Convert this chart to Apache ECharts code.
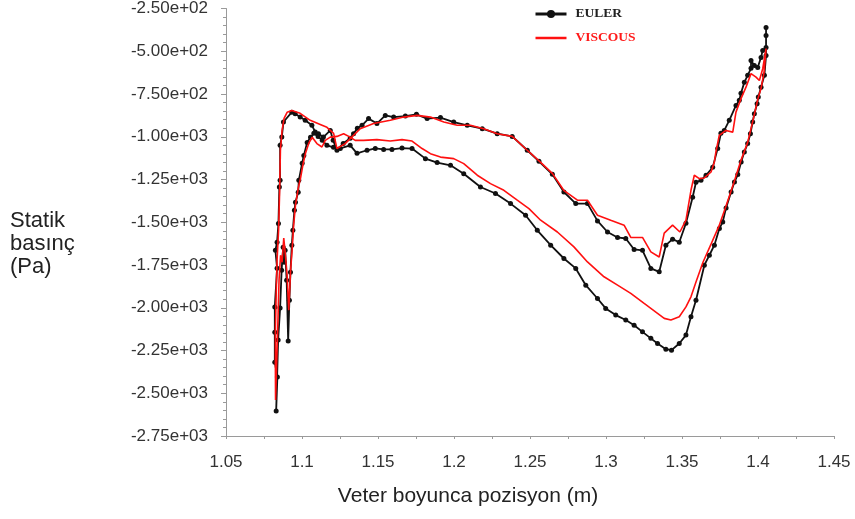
<!DOCTYPE html>
<html>
<head>
<meta charset="utf-8">
<script src="https://cdn.jsdelivr.net/npm/echarts@6/dist/echarts.min.js"></script>
<style>
  html, body { margin: 0; padding: 0; background: #fff; }
  #chart { width: 855px; height: 519px; }
</style>
</head>
<body>
<div id="chart"></div>
<script>
// Static pressure around the blade section: chord position (m), pressure (Pa).
// Each loop runs from the trailing edge along the upper branch to the leading edge,
// through the leading-edge spikes and back along the lower branch.

const eulerUpper = [
  [1.4053, -361], [1.4053, -478], [1.4031, -495], [1.4020, -536], [1.3998, -595],
  [1.3976, -583], [1.3954, -554], [1.3954, -600], [1.3932, -641], [1.3910, -682],
  [1.3888, -746], [1.3877, -787], [1.3855, -817], [1.3811, -904], [1.3778, -963],
  [1.3756, -980], [1.3735, -1068], [1.3702, -1179], [1.3658, -1225], [1.3625, -1255],
  [1.3592, -1266], [1.3570, -1354], [1.3526, -1506], [1.3482, -1617], [1.3438, -1599],
  [1.3394, -1634], [1.3350, -1790], [1.3295, -1770], [1.3240, -1664], [1.3185, -1659],
  [1.3130, -1595], [1.3076, -1589], [1.3010, -1557], [1.2944, -1492], [1.2878, -1391],
  [1.2801, -1391], [1.2723, -1323], [1.2647, -1220], [1.2559, -1144], [1.2482, -1079],
  [1.2383, -998], [1.2284, -982], [1.2186, -953], [1.2087, -933], [1.1998, -914],
  [1.1911, -888], [1.1823, -894], [1.1753, -869], [1.1680, -879], [1.1603, -885],
  [1.1548, -875], [1.1493, -923], [1.1438, -894], [1.1395, -933], [1.1364, -951],
  [1.1339, -982], [1.1317, -1009], [1.1271, -1039], [1.1230, -1079], [1.1205, -1021],
  [1.1186, -963], [1.1141, -1002], [1.1108, -982], [1.1087, -972], [1.1065, -933],
  [1.1021, -904], [1.0988, -885], [1.0955, -865], [1.0933, -856]
];

const eulerNose = [
  [1.0878, -914], [1.0867, -1002], [1.0856, -1050], [1.0856, -1255], [1.0851, -1294],
  [1.0845, -1508], [1.0836, -1617], [1.0825, -1664], [1.0836, -1769], [1.0821, -1995],
  [1.0821, -2143], [1.0821, -2318], [1.0838, -2405], [1.0830, -2604], [1.0843, -2189],
  [1.0856, -2002], [1.0866, -1780], [1.0876, -1646], [1.0882, -1734], [1.0889, -1664],
  [1.0899, -1839], [1.0909, -2195]
];

const eulerLower = [
  [1.0917, -1956], [1.0924, -1792], [1.0933, -1634], [1.0940, -1547], [1.0950, -1430],
  [1.0957, -1383], [1.0975, -1325], [1.0979, -1255], [1.1001, -1155], [1.1012, -1109],
  [1.1034, -1033], [1.1056, -1003], [1.1078, -980], [1.1106, -998], [1.1133, -1021],
  [1.1164, -1050], [1.1207, -1062], [1.1252, -1068], [1.1317, -1050], [1.1362, -1097],
  [1.1428, -1079], [1.1482, -1068], [1.1537, -1074], [1.1592, -1074], [1.1658, -1066],
  [1.1724, -1069], [1.1812, -1128], [1.1889, -1151], [1.1977, -1167], [1.2064, -1216],
  [1.2174, -1294], [1.2273, -1332], [1.2372, -1391], [1.2471, -1459], [1.2548, -1547],
  [1.2636, -1634], [1.2723, -1712], [1.2801, -1770], [1.2867, -1868], [1.2944, -1946],
  [1.2998, -2004], [1.3064, -2043], [1.3130, -2072], [1.3185, -2102], [1.3240, -2141],
  [1.3295, -2179], [1.3339, -2209], [1.3394, -2242], [1.3431, -2248], [1.3482, -2209],
  [1.3526, -2160], [1.3559, -2053], [1.3592, -1956], [1.3647, -1751], [1.3680, -1693],
  [1.3713, -1634], [1.3746, -1537], [1.3768, -1498], [1.3790, -1416], [1.3823, -1323],
  [1.3845, -1265], [1.3867, -1221], [1.3889, -1148], [1.3910, -1089], [1.3932, -1040],
  [1.3950, -982], [1.3965, -914], [1.3976, -865], [1.3994, -807], [1.4002, -768],
  [1.4020, -710], [1.4042, -641], [1.4053, -525], [1.4053, -408]
];

const viscousUpper = [
  [1.4053, -484], [1.4031, -602], [1.4009, -671], [1.3987, -651], [1.3954, -631],
  [1.3921, -710], [1.3888, -777], [1.3855, -856], [1.3834, -973], [1.3789, -963],
  [1.3745, -992], [1.3723, -1089], [1.3713, -1148], [1.3691, -1206], [1.3647, -1241],
  [1.3614, -1245], [1.3581, -1225], [1.3559, -1313], [1.3526, -1488], [1.3486, -1557],
  [1.3438, -1517], [1.3383, -1564], [1.3350, -1703], [1.3295, -1673], [1.3240, -1589],
  [1.3163, -1589], [1.3119, -1517], [1.3031, -1488], [1.2944, -1459], [1.2878, -1371],
  [1.2812, -1371], [1.2722, -1313], [1.2647, -1214], [1.2556, -1138], [1.2482, -1079],
  [1.2383, -998], [1.2284, -982], [1.2196, -953], [1.2108, -933], [1.2021, -933],
  [1.1933, -914], [1.1845, -885], [1.1757, -875], [1.1669, -885], [1.1581, -904],
  [1.1471, -923], [1.1383, -953], [1.1339, -992], [1.1284, -1040], [1.1230, -1069],
  [1.1208, -980], [1.1164, -945], [1.1120, -928], [1.1054, -904], [1.0988, -863],
  [1.0933, -846]
];

const viscousNose = [
  [1.0902, -857], [1.0882, -893], [1.0869, -963], [1.0858, -1079], [1.0853, -1313],
  [1.0846, -1547], [1.0836, -1722], [1.0830, -1926], [1.0825, -2131], [1.0825, -2364],
  [1.0826, -2540], [1.0840, -2131], [1.0849, -1839], [1.0859, -1693], [1.0869, -1734],
  [1.0880, -1593], [1.0891, -1693], [1.0902, -1810], [1.0913, -2014]
];

const viscousLower = [
  [1.0925, -1780], [1.0935, -1664], [1.0945, -1517], [1.0957, -1401], [1.0975, -1302],
  [1.0990, -1243], [1.1008, -1155], [1.1023, -1097], [1.1044, -1039], [1.1067, -1003],
  [1.1098, -1040], [1.1131, -1060], [1.1153, -1021], [1.1186, -1002], [1.1230, -998],
  [1.1274, -982], [1.1317, -1002], [1.1350, -1021], [1.1405, -1021], [1.1493, -1017],
  [1.1581, -1025], [1.1658, -1017], [1.1724, -1025], [1.1790, -1069], [1.1845, -1099],
  [1.1911, -1119], [1.1998, -1128], [1.2064, -1157], [1.2153, -1225], [1.2240, -1274],
  [1.2328, -1313], [1.2416, -1371], [1.2493, -1420], [1.2570, -1488], [1.2680, -1557],
  [1.2789, -1644], [1.2878, -1732], [1.2987, -1819], [1.3076, -1868], [1.3163, -1916],
  [1.3251, -1975], [1.3339, -2033], [1.3383, -2062], [1.3427, -2072], [1.3482, -2053],
  [1.3526, -1995], [1.3559, -1936], [1.3592, -1850], [1.3638, -1734], [1.3691, -1628],
  [1.3743, -1523], [1.3789, -1407], [1.3842, -1266], [1.3888, -1138], [1.3932, -1033],
  [1.3967, -904], [1.4000, -776], [1.4020, -717], [1.4040, -624], [1.4053, -484]
];

const seriesNames = ['EULER', 'VISCOUS'];
const xTitle = 'Veter boyunca pozisyon (m)';
const yTitle = 'Statik\nbasınç\n(Pa)';

// Axis ranges and tick steps
const xMin = 1.05, xMax = 1.45, xStep = 0.05;
const yMin = -2750, yMax = -250, yStep = 250;

// "-2.50e+02" style labels
function sci(v) {
  const parts = Number(v).toExponential(2).split('e');
  const sign = parts[1][0];
  const digits = parts[1].slice(1).padStart(2, '0');
  return parts[0] + 'e' + sign + digits;
}

const axisColor = '#9a9a9a';
const labelColor = '#333';
const font = 'Liberation Sans, Arial, sans-serif';
const eulerColor = '#111';
const viscousColor = '#ff1010';

const chart = echarts.init(document.getElementById('chart'), null, { renderer: 'canvas' });
chart.setOption({
  animation: false,
  backgroundColor: '#fff',
  grid: { left: 226, right: 21, top: 8, bottom: 83, containLabel: false },
  legend: {
    orient: 'vertical',
    left: 529,
    top: 2,
    itemWidth: 31,
    itemHeight: 10,
    itemGap: 10,
    data: [
      {
        name: seriesNames[0],
        textStyle: { color: '#222' },
        lineStyle: { width: 3 }
      },
      {
        name: seriesNames[1],
        textStyle: { color: '#ff1a1a' },
        lineStyle: { width: 2.5 },
        itemStyle: { color: 'rgba(0,0,0,0)', borderColor: 'rgba(0,0,0,0)', borderWidth: 0 }
      }
    ],
    textStyle: {
      fontFamily: 'Liberation Serif, Times New Roman, serif',
      fontWeight: 'bold',
      fontSize: 13.5,
      padding: [0, 0, 0, 4]
    }
  },
  xAxis: {
    type: 'value',
    min: xMin,
    max: xMax,
    interval: xStep,
    axisLine: { show: true, onZero: false, lineStyle: { color: axisColor, width: 1 } },
    axisTick: { show: true, length: 3, lineStyle: { color: axisColor } },
    minorTick: { show: true, splitNumber: 2, length: 3, lineStyle: { color: axisColor } },
    splitLine: { show: false },
    axisLabel: {
      margin: 18,
      color: labelColor,
      fontSize: 17,
      fontFamily: font,
      formatter: v => String(parseFloat(Number(v).toFixed(3)))
    }
  },
  yAxis: {
    type: 'value',
    min: yMin,
    max: yMax,
    interval: yStep,
    axisLine: { show: true, onZero: false, lineStyle: { color: axisColor, width: 1 } },
    axisTick: { show: true, length: 5, lineStyle: { color: axisColor } },
    minorTick: { show: true, splitNumber: 5, length: 3, lineStyle: { color: axisColor } },
    splitLine: { show: false },
    axisLabel: {
      margin: 18,
      color: labelColor,
      fontSize: 17,
      fontFamily: font,
      formatter: sci
    }
  },
  graphic: [
    {
      type: 'text',
      left: 10,
      top: 209,
      style: {
        text: yTitle,
        font: '22px ' + font,
        lineHeight: 23,
        fill: '#222'
      }
    },
    {
      type: 'text',
      x: 468,
      y: 496,
      style: {
        text: xTitle,
        font: '21px ' + font,
        textAlign: 'center',
        textVerticalAlign: 'middle',
        fill: '#222'
      }
    }
  ],
  series: [
    {
      name: seriesNames[0],
      type: 'line',
      data: eulerUpper.concat(eulerNose, eulerLower),
      symbol: 'circle',
      symbolSize: 5,
      showAllSymbol: true,
      lineStyle: { color: eulerColor, width: 1.8 },
      itemStyle: { color: eulerColor },
      z: 2
    },
    {
      name: seriesNames[1],
      type: 'line',
      data: viscousUpper.concat(viscousNose, viscousLower),
      symbol: 'none',
      lineStyle: { color: viscousColor, width: 1.6 },
      itemStyle: { color: viscousColor },
      z: 3
    }
  ]
});
</script>
</body>
</html>
